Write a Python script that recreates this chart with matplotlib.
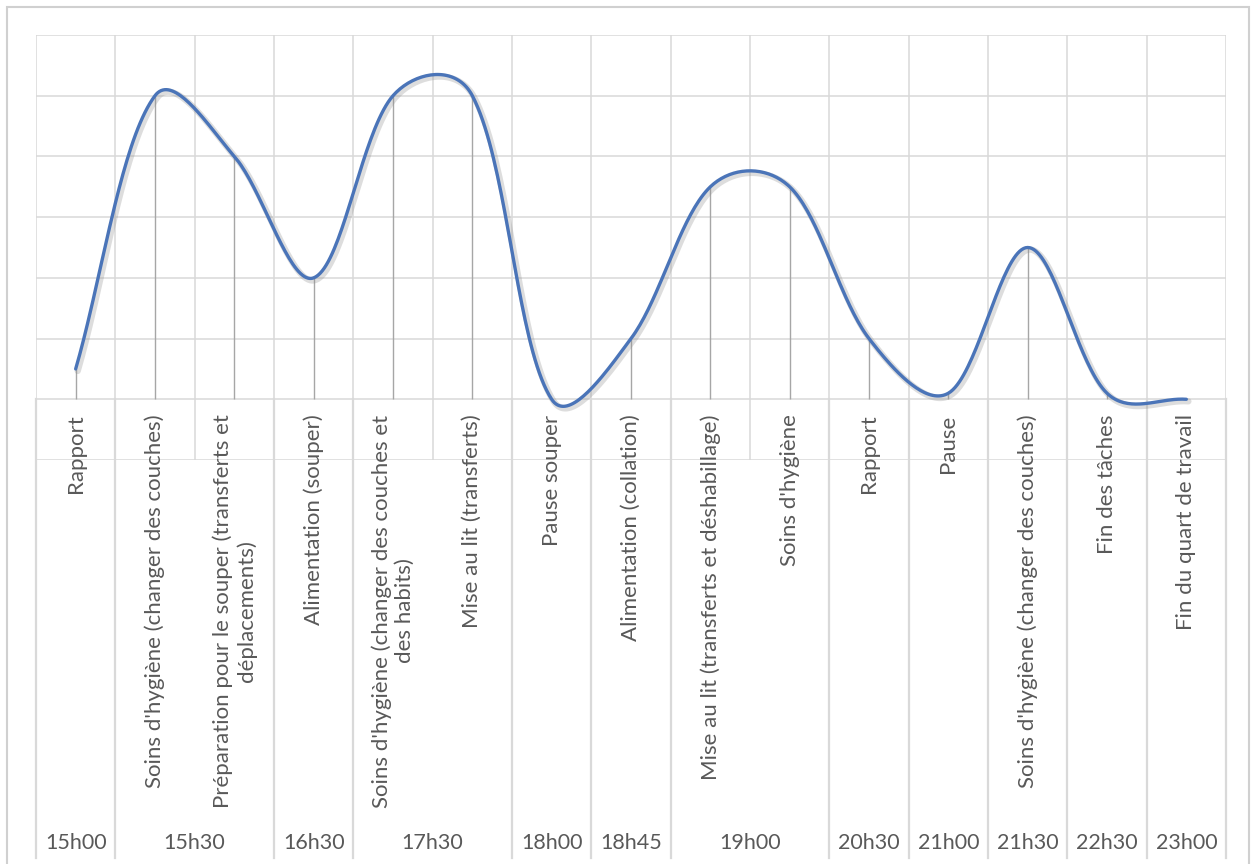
import numpy as np
import matplotlib
matplotlib.use("Agg")
import matplotlib.pyplot as plt
import matplotlib.transforms as mtransforms
import matplotlib.patheffects as pe
from matplotlib.patches import Rectangle

# activities (first level of the category axis), in order
activities = [
    "Rapport",
    "Soins d'hygiène (changer des couches)",
    "Préparation pour le souper (transferts et\ndéplacements)",
    "Alimentation (souper)",
    "Soins d'hygiène (changer des couches et\ndes habits)",
    "Mise au lit (transferts)",
    "Pause souper",
    "Alimentation (collation)",
    "Mise au lit (transferts et déshabillage)",
    "Soins d'hygiène",
    "Rapport",
    "Pause",
    "Soins d'hygiène (changer des couches)",
    "Fin des tâches",
    "Fin du quart de travail",
]
# time groups (second level) and how many activities each one holds
times = ["15h00", "15h30", "16h30", "17h30", "18h00", "18h45",
         "19h00", "20h30", "21h00", "21h30", "22h30", "23h00"]
group_sizes = [1, 2, 1, 2, 1, 1, 2, 1, 1, 1, 1, 1]
# workload level
values = [0.5, 5, 4, 2, 5, 5, 0, 1, 3.5, 3.5, 1, 0.1, 2.5, 0.1, 0]

W, H = 1253, 864
text_color = "#595959"
grid_color = "#d9d9d9"
line_color = "#4a74b8"
plt.rcParams["font.family"] = ["Lato", "DejaVu Sans"]


def smooth_curve(xs, ys, y_aspect=0.38, steps=40):
    # Excel-like smoothed line: Bezier segments, control points weighted by segment length
    pts = np.column_stack([xs, ys]).astype(float)
    padded = np.vstack([pts[0], pts, pts[-1]])
    scale = np.array([1.0, y_aspect])

    def dist(a, b):
        return np.hypot(*((b - a) * scale))

    out = []
    t = np.linspace(0, 1, steps)[:, None]
    for i in range(len(pts) - 1):
        p0, p1, p2, p3 = padded[i], padded[i + 1], padded[i + 2], padded[i + 3]
        d01, d12, d23 = dist(p0, p1), dist(p1, p2), dist(p2, p3)
        c1 = p1 + (p2 - p0) * d12 / (d01 + d12) / 3
        c2 = p2 - (p3 - p1) * d12 / (d12 + d23) / 3
        seg = ((1 - t) ** 3) * p1 + 3 * ((1 - t) ** 2) * t * c1 + 3 * (1 - t) * t ** 2 * c2 + t ** 3 * p2
        out.append(seg if i == 0 else seg[1:])
    out = np.vstack(out)
    return out[:, 0], out[:, 1]


fig = plt.figure(figsize=(W / 100, H / 100), dpi=100)
fig.patch.set_facecolor("white")

# chart border
fig.add_artist(Rectangle((7 / W, -0.05), 1242 / W, 1 - 7 / H + 0.05,
                         transform=fig.transFigure, fill=False,
                         edgecolor="#d0d0d0", lw=1.5))

# plot area: x 36..1226 px, y 35..460 px
ax = fig.add_axes([36 / W, 1 - 460 / H, 1190 / W, 425 / H])
n = len(values)
x = np.arange(n)
ax.set_xlim(-0.5, n - 0.5)
ax.set_ylim(-1, 6)
for s in ax.spines.values():
    s.set_visible(False)
ax.set_xticks([])
ax.set_yticks([])

# gridlines
for yv in range(-1, 7):
    ax.axhline(yv, color=grid_color, lw=1.1, zorder=1)
for k in range(n + 1):
    ax.axvline(k - 0.5, color=grid_color, lw=1.1, zorder=1)

# drop lines
ax.vlines(x, 0, values, color="#a6a6a6", lw=1.0, zorder=2)

# smoothed series
sx, sy = smooth_curve(x, values)
ax.plot(sx, sy, color=line_color, lw=2.4, zorder=3, solid_capstyle="round",
        path_effects=[pe.SimpleLineShadow(offset=(1.5, -1.5), shadow_color="#909090",
                                          alpha=0.3, linewidth=4.5),
                      pe.Normal()])

# multi-level category axis below the zero line
blend = mtransforms.blended_transform_factory(ax.transData, fig.transFigure)
bottom = 1 - 858 / H
axis_y = 1 - 399 / H
for i, label in enumerate(activities):
    ax.text(i, -0.25, label, rotation=90, ha="center", va="top",
            multialignment="center", fontsize=16, color=text_color,
            clip_on=False, zorder=4)

edges = np.concatenate([[0], np.cumsum(group_sizes)]) - 0.5
for e in edges:
    ax.plot([e, e], [bottom, axis_y], transform=blend, color=grid_color,
            lw=1.6, clip_on=False, zorder=1)
for g, t in enumerate(times):
    centre = (edges[g] + edges[g + 1]) / 2
    ax.text(centre, 1 - 843 / H, t, transform=blend, ha="center", va="center",
            fontsize=15.5, color=text_color, clip_on=False)

fig.savefig("out.png", dpi=100)
